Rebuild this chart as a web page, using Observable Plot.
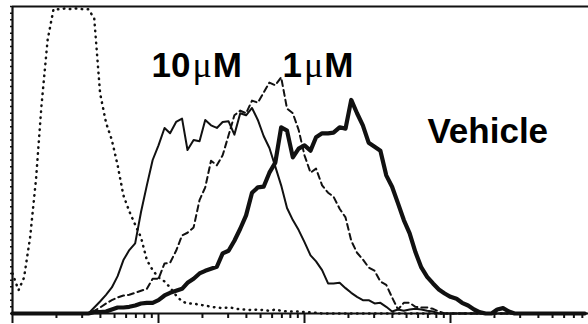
<!DOCTYPE html>
<html>
<head>
<meta charset="utf-8">
<script src="https://cdn.jsdelivr.net/npm/d3@7"></script>
<script src="https://cdn.jsdelivr.net/npm/@observablehq/plot@0.6"></script>
<style>
  html, body { margin: 0; padding: 0; background: #fff; }
  #chart { width: 588px; height: 324px; }
</style>
</head>
<body>
<div id="chart"></div>
<script>
// Fluorescence intensity (log channels, bin centres)
const intensity = [
  1, 1.1, 1.2, 1.32, 1.45, 1.58, 1.74, 1.91, 2.09, 2.29, 2.51, 2.75, 3.02, 3.31, 3.63, 3.98, 4.37, 4.79, 5.25, 5.75, 6.31, 6.92, 7.59, 8.32, 9.12,
  10, 11, 12, 13.2, 14.5, 15.8, 17.4, 19.1, 20.9, 22.9, 25.1, 27.5, 30.2, 33.1, 36.3, 39.8, 43.7, 47.9, 52.5, 57.5, 63.1, 69.2, 75.9, 83.2, 91.2,
  100, 110, 120, 132, 145, 158, 174, 191, 209, 229, 251, 275, 302, 331, 363, 398, 437, 479, 525, 575, 631, 692, 759, 832, 912,
  1000, 1100, 1200, 1320, 1450, 1580, 1740, 1910, 2090, 2290, 2510, 2750, 3020, 3310, 3630, 3980, 4370, 4790, 5250, 5750, 6310, 6920, 7590, 8320
];

// Event counts per channel
const control = [
  60, 35, 54, 114, 202, 312, 410, 456, 456, 457, 456, 457, 456, 456, 442, 330, 286, 260, 222, 177, 153, 133, 114, 80, 65,
  54, 48, 39, 27, 18, 15, 15, 13, 12, 10, 9, 8, 9, 8, 6, 6, 5, 6, 5, 4, 6, 4, 3, 3, 3,
  2, 2, 1, 0, 0, 0, 0, 0, 0, 0, 0, 0, 0, 0, 0, 0, 0, 0, 0, 0, 0, 0, 0, 0, 0,
  0, 0, 0, 0, 0, 0, 0, 0, 0, 0, 0, 0, 0, 0, 0, 0, 0, 0, 0, 0, 0, 0, 0, 0
];
const dose10uM = [
  0, 0, 0, 0, 0, 0, 0, 0, 0, 0, 0, 0, 0, 0, 9, 18, 28, 39, 56, 80, 95, 105, 152, 192, 230,
  252, 278, 270, 287, 292, 245, 260, 258, 290, 282, 278, 287, 288, 268, 300, 297, 308, 290, 266, 248, 220, 192, 158, 140, 125,
  107, 87, 78, 65, 45, 45, 46, 38, 31, 25, 20, 20, 15, 16, 10, 3, 6, 4, 6, 7, 6, 4, 3, 0, 0,
  0, 0, 0, 0, 0, 0, 0, 0, 0, 0, 0, 0, 0, 0, 0, 0, 0, 0, 0, 0, 0, 0, 0, 0
];
const dose1uM = [
  0, 0, 0, 0, 0, 0, 0, 0, 0, 0, 0, 0, 0, 0, 4, 9, 15, 20, 24, 27, 28, 31, 34, 37, 52,
  52, 75, 76, 94, 117, 121, 129, 170, 189, 229, 222, 237, 267, 297, 304, 300, 319, 316, 331, 346, 342, 354, 307, 300, 275,
  237, 211, 217, 192, 181, 175, 157, 144, 109, 91, 81, 69, 64, 48, 43, 24, 6, 16, 16, 10, 9, 9, 7, 3, 0,
  0, 0, 0, 0, 0, 0, 0, 0, 0, 0, 0, 0, 0, 0, 0, 0, 0, 0, 0, 0, 0, 0, 0, 0
];
const vehicle = [
  0, 0, 0, 0, 0, 0, 0, 0, 0, 0, 0, 0, 0, 0, 2, 2, 3, 6, 9, 9, 10, 12, 15, 16, 16,
  20, 27, 31, 34, 37, 46, 52, 60, 64, 67, 70, 90, 94, 109, 127, 147, 181, 189, 190, 211, 226, 279, 274, 234, 247,
  252, 244, 264, 270, 270, 271, 279, 277, 320, 300, 282, 256, 250, 244, 207, 190, 165, 140, 120, 92, 69, 55, 45, 36, 30,
  25, 22, 16, 12, 6, 2, 0, 0, 6, 8, 3, 0, 0, 0, 0, 0, 0, 0, 0, 0, 0, 0, 0, 0
];

// Axis tick values
const majorTicks = [1, 10, 100, 1000, 10000];
const minorTicks = [
  2, 3, 4, 5, 6, 7, 8, 9,
  20, 30, 40, 50, 60, 70, 80, 90,
  200, 300, 400, 500, 600, 700, 800, 900,
  2000, 3000, 4000, 5000, 6000, 7000, 8000, 9000
];

// Annotations
const labelText = ["10μM", "1μM", "Vehicle"];
const labelX = [8.95, 70.7, 695];
const labelY = [354, 354, 256];

const series = (name, counts) => intensity.map((x, i) => ({series: name, x, y: counts[i]}));
const dataControl = series("control", control);
const data10 = series("10uM", dose10uM);
const data1 = series("1uM", dose1uM);
const dataVehicle = series("vehicle", vehicle);
const labels = labelText.map((t, i) => ({text: t, x: labelX[i], y: labelY[i]}));

const ink = "#111";

const chart = Plot.plot({
  width: 588,
  height: 324,
  marginTop: 6,
  marginBottom: 11,
  marginLeft: 12,
  marginRight: 0,
  style: {background: "#fff", overflow: "hidden"},
  x: {type: "log", domain: [1, 10000], range: [12, 596], label: null},
  y: {domain: [0, 460], label: null},
  marks: [
    Plot.line(dataControl, {x: "x", y: "y", stroke: ink, strokeWidth: 2.5, strokeDasharray: "0.5,5.5", strokeLinecap: "round"}),
    Plot.line(data1, {x: "x", y: "y", stroke: ink, strokeWidth: 2, strokeDasharray: "6,4"}),
    Plot.line(data10, {x: "x", y: "y", stroke: ink, strokeWidth: 2, strokeLinejoin: "round"}),
    Plot.line(dataVehicle, {x: "x", y: "y", stroke: ink, strokeWidth: 4.2, strokeLinejoin: "round"}),
    Plot.axisX({ticks: majorTicks, tickSize: 10, tickFormat: () => "", stroke: ink, strokeWidth: 2, label: null}),
    Plot.axisX({ticks: minorTicks, tickSize: 5, tickFormat: () => "", stroke: ink, strokeWidth: 2, label: null}),
    Plot.axisY({ticks: 46, tickSize: 2, tickFormat: () => "", stroke: ink, strokeWidth: 1.5, label: null}),
    Plot.ruleY([0], {stroke: ink, strokeWidth: 2.2}),
    Plot.ruleY([460], {stroke: ink, strokeWidth: 2.2}),
    Plot.ruleX([1], {stroke: ink, strokeWidth: 2.2}),
    Plot.text(labels, {x: "x", y: "y", text: "text", textAnchor: "start", lineAnchor: "bottom",
      fontFamily: '"Liberation Sans", Arial, sans-serif', fontWeight: "bold", fontSize: 35, fill: "#000"})
  ]
});

// Render the micro sign in a lighter serif face, as in the original figure
d3.select(chart).selectAll("text").each(function() {
  const t = this.textContent;
  if (t.includes("μ")) {
    const [a, b] = t.split("μ");
    const sel = d3.select(this);
    sel.text(null);
    sel.append("tspan").text(a);
    sel.append("tspan").attr("dx", 2).attr("font-family", '"Liberation Serif", "DejaVu Serif", serif')
      .attr("font-weight", "normal").attr("font-size", 36).text("μ");
    sel.append("tspan").attr("dx", 1).text(b);
  }
});

document.getElementById("chart").appendChild(chart);
</script>
</body>
</html>
